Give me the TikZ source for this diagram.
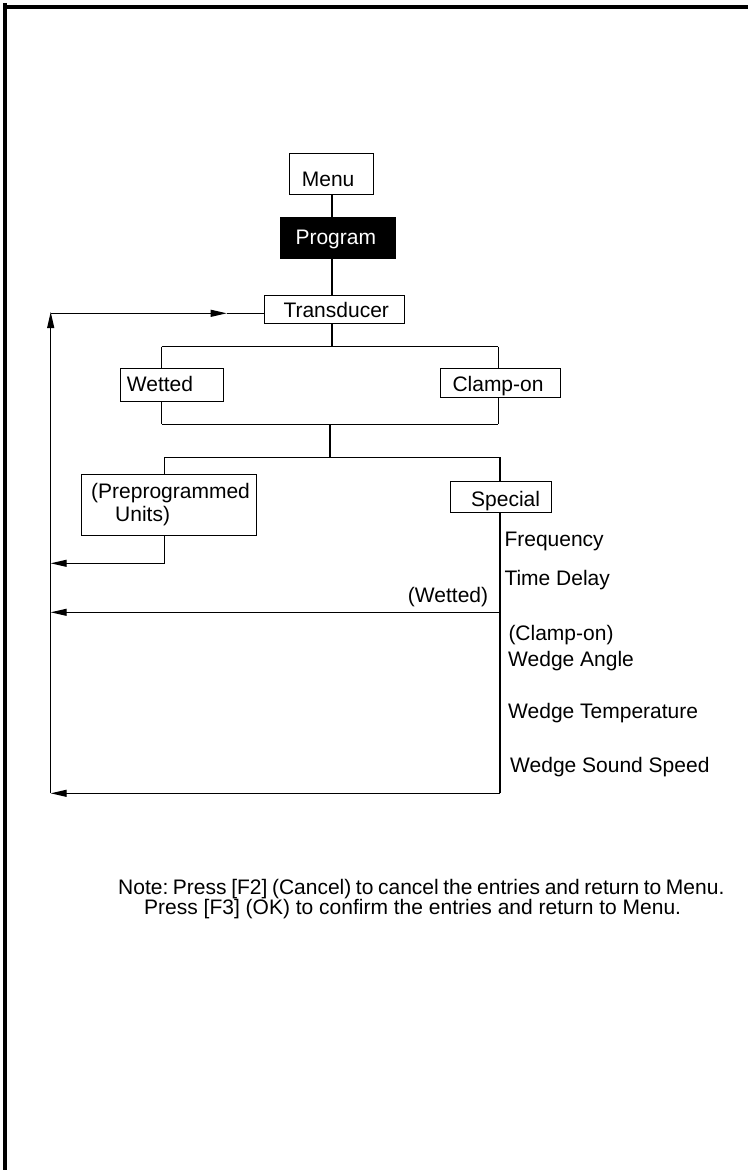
\documentclass[tikz,border=0pt]{standalone}
\usepackage{fontspec}
\setmainfont{Liberation Sans}
\usetikzlibrary{arrows.meta}
\frenchspacing
\begin{document}
\begin{tikzpicture}[x=1pt,y=-1pt,
  box/.style={draw,line width=1pt,inner sep=0pt},
  lbl/.style={inner sep=0pt,font=\fontsize{21}{24}\selectfont},
  ln/.style={line width=1.1pt},
  arr/.style={line width=1.1pt,-{Triangle[length=16pt,width=7pt]}},
  frame/.style={line width=4pt}]
\useasboundingbox (0,0) rectangle (748,1170);
% page frame
\coordinate (ftl) at (5,5);
\coordinate (fbl) at (5,1170);
\coordinate (ftr) at (748,7);
\draw[frame] (fbl) -- (ftl |- 0,3);
\draw[frame] (3,7) -- (ftr);
% boxes
\node[box,minimum width=84pt,minimum height=40.7pt] (menu) at (331.3,173.7) {};
\node[box,fill=black,minimum width=114.7pt,minimum height=41pt] (prog) at (338.3,237.8) {};
\node[box,minimum width=139.7pt,minimum height=28pt] (trans) at (334.2,309.7) {};
\node[box,minimum width=103pt,minimum height=33.4pt] (wet) at (171.8,385) {};
\node[box,minimum width=119.7pt,minimum height=29.4pt] (clamp) at (500.2,383) {};
\node[box,minimum width=175pt,minimum height=61.3pt] (pre) at (169.2,504.7) {};
\node[box,minimum width=101.4pt,minimum height=31.7pt] (spec) at (501,496.9) {};
% box texts
\node[lbl,anchor=base west] (menut) at (301.7,186) {Menu};
\node[lbl,anchor=base west,text=white] (progt) at (295.3,244.3) {Program};
\node[lbl,anchor=base west] (transt) at (283.3,317.3) {Transducer};
\node[lbl,anchor=base west] (wett) at (126.7,391) {Wetted};
\node[lbl,anchor=base west] (clampt) at (452.3,391) {Clamp-on};
\node[lbl,anchor=base west] (spect) at (471,506) {Special};
\node[lbl,anchor=base west] (pret1) at (91,498.3) {(Preprogrammed};
\node[lbl,anchor=base west] (pret2) at (115,521) {Units)};
% list texts
\node[lbl,anchor=base west] (freq) at (504.3,546) {Frequency};
\node[lbl,anchor=base west] (tdel) at (504.3,585.7) {Time Delay};
\node[lbl,anchor=base east] (wetl) at (488.3,602) {(Wetted)};
\node[lbl,anchor=base west] (clampl) at (508.3,640) {(Clamp-on)};
\node[lbl,anchor=base west] (wang) at (508,666.5) {Wedge Angle};
\node[lbl,anchor=base west] (wtemp) at (508,718.5) {Wedge Temperature};
\node[lbl,anchor=base west] (wss) at (510,772.5) {Wedge Sound Speed};
% note
\node[lbl,anchor=base west] (note1) at (118,894) {\spaceskip=4.6pt plus 1pt Note: Press [F2] (Cancel) to cancel the entries and return to Menu.};
\node[lbl,anchor=base west] (note2) at (144,914) {Press [F3] (OK) to confirm the entries and return to Menu.};
% coordinates
\coordinate (sp) at (332,0);
\coordinate (b1l) at (161.7,346.7);
\coordinate (b1r) at (498.3,346.7);
\coordinate (b2l) at (161.7,424.3);
\coordinate (b2r) at (498.3,424.3);
\coordinate (m2) at (330,424.3);
\coordinate (m3) at (330,457.3);
\coordinate (b3l) at (164.7,457.3);
\coordinate (b3r) at (500,457.3);
\coordinate (pb) at (164.7,563.3);
\coordinate (pl) at (50.7,563.3);
\coordinate (sw) at (500,612.3);
\coordinate (wl) at (50.7,612.3);
\coordinate (sb) at (500,793.3);
\coordinate (lb) at (50.7,793.3);
\coordinate (lt) at (50.7,312);
\coordinate (tl) at (50.7,313.3);
\coordinate (ta) at (226.7,313.3);
% spine
\draw[ln] (menu.south -| sp) -- (prog.north -| sp);
\draw[ln] (prog.south -| sp) -- (trans.north -| sp);
\draw[ln] (trans.south -| sp) -- (sp |- b1l);
% first branch
\draw[ln] (b1l) -- (b1r);
\draw[ln] (b1l) -- (wet.north -| b1l);
\draw[ln] (wet.south -| b1l) -- (b2l);
\draw[ln] (b1r) -- (clamp.north -| b1r);
\draw[ln] (clamp.south -| b1r) -- (b2r);
\draw[ln] (b2l) -- (b2r);
\draw[ln] (m2) -- (m3);
% second branch
\draw[ln] (b3l) -- (b3r);
\draw[ln] (b3l) -- (pre.north -| b3l);
\draw[ln] (b3r) -- (spec.north -| b3r);
\draw[ln] (pre.south -| b3l) -- (pb);
\draw[arr] (pb) -- (pl);
\draw[ln] (spec.south -| b3r) -- (sb);
\draw[arr] (sw) -- (wl);
\draw[arr] (sb) -- (lb);
% return loop
\draw[arr] (lb) -- (lt);
\draw[arr] (tl) -- (ta);
\draw[ln] (ta) -- (trans.west |- ta);
\end{tikzpicture}
\end{document}
